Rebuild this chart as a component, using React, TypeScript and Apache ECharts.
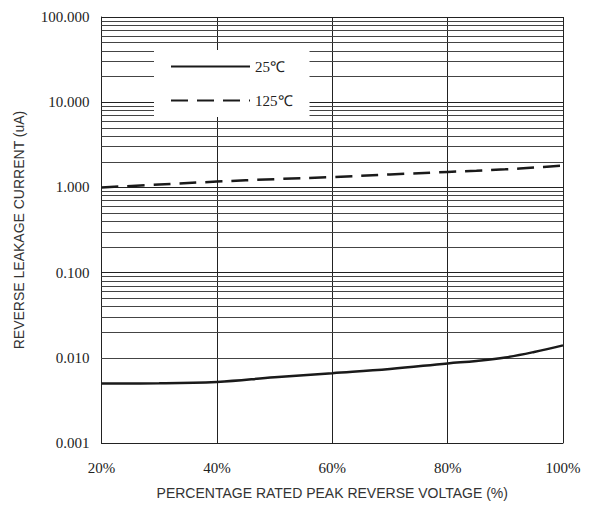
import React, { useEffect, useRef } from "react";
import * as echarts from "echarts";

const voltagePct = [20, 30, 40, 50, 60, 70, 80, 85, 90, 95, 100];
const leak25 = [0.005, 0.00502, 0.0052, 0.0059, 0.0066, 0.0074, 0.0086, 0.0092, 0.0101, 0.0117, 0.014];
const leak125 = [1.0, 1.08, 1.17, 1.25, 1.32, 1.42, 1.52, 1.57, 1.63, 1.71, 1.8];
const seriesNames = ["25\u2103", "125\u2103"];
const decades = [0.001, 0.01, 0.1, 1, 10];
const minorMultipliers = [2, 3, 4, 5, 6, 7, 8, 9];

export default function App() {
  const ref = useRef<HTMLDivElement>(null);
  useEffect(() => {
    if (!ref.current) return;
    const chart = echarts.init(ref.current, null, { renderer: "svg" });
    const minorLines: any[] = [];
    decades.forEach((d) => minorMultipliers.forEach((m) => minorLines.push({ yAxis: d * m })));
    const serif = "Liberation Serif";
    const sans = "Liberation Sans";
    chart.setOption({
      animation: false,
      backgroundColor: "#fff",
      grid: { left: 101.5, right: 37, top: 17, bottom: 63 },
      legend: {
        data: seriesNames,
        orient: "vertical",
        left: 154,
        top: 50,
        itemWidth: 79,
        itemHeight: 14,
        itemGap: 19,
        padding: [9, 17, 9, 16],
        backgroundColor: "#fff",
        itemStyle: { opacity: 0 },
        textStyle: { fontFamily: serif, fontSize: 15, color: "#222" },
      },
      xAxis: {
        type: "value",
        min: 20,
        max: 100,
        interval: 20,
        name: "PERCENTAGE RATED PEAK REVERSE VOLTAGE (%)",
        nameLocation: "middle",
        nameGap: 43,
        nameTextStyle: { fontFamily: sans, fontSize: 14, color: "#333" },
        axisLine: { show: true, lineStyle: { color: "#222", width: 1 } },
        axisTick: { show: false },
        axisLabel: { formatter: "{value}%", margin: 17, fontFamily: serif, fontSize: 15, color: "#222" },
        splitLine: { show: true, lineStyle: { color: "#222", width: 1 } },
      },
      yAxis: {
        type: "log",
        logBase: 10,
        min: 0.001,
        max: 100,
        name: "REVERSE LEAKAGE CURRENT (uA)",
        nameLocation: "middle",
        nameGap: 76,
        nameTextStyle: { fontFamily: sans, fontSize: 14, color: "#333" },
        axisLine: { show: true, lineStyle: { color: "#222", width: 1 } },
        axisTick: { show: false },
        axisLabel: {
          formatter: (v: number) => v.toFixed(3),
          margin: 12,
          fontFamily: serif,
          fontSize: 15,
          color: "#222",
        },
        splitLine: { show: true, lineStyle: { color: "#222", width: 1 } },
      },
      series: [
        {
          name: seriesNames[0],
          type: "line",
          smooth: 0.4,
          symbol: "none",
          data: voltagePct.map((x, i) => [x, leak25[i]]),
          lineStyle: { color: "#1a1a1a", width: 2.5, type: "solid" },
          itemStyle: { color: "#1a1a1a" },
          z: 5,
          markLine: {
            silent: true,
            symbol: "none",
            label: { show: false },
            lineStyle: { color: "#444", width: 1, type: "solid" },
            data: minorLines,
            z: 1,
          },
        },
        {
          name: seriesNames[1],
          type: "line",
          smooth: 0.4,
          symbol: "none",
          data: voltagePct.map((x, i) => [x, leak125[i]]),
          lineStyle: { color: "#1a1a1a", width: 2.5, type: [17, 9] },
          itemStyle: { color: "#1a1a1a" },
          z: 5,
        },
      ],
    });
    return () => chart.dispose();
  }, []);
  return <div ref={ref} style={{ width: 600, height: 506, position: "absolute", left: 0, top: 0 }} />;
}
